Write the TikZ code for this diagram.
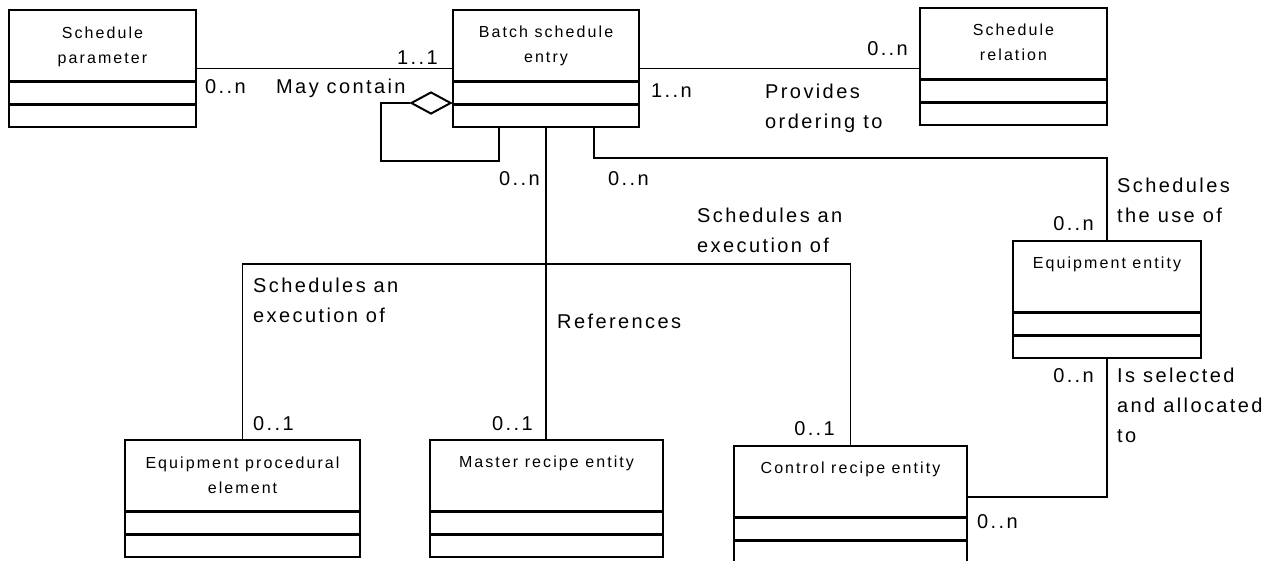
\documentclass[tikz,border=0pt]{standalone}
\usepackage{fontspec}
\setmainfont{Liberation Sans}
\newfontfamily\boxfont[LetterSpace=13]{Liberation Sans}
\newfontfamily\lblfont[LetterSpace=12]{Liberation Sans}
\usetikzlibrary{shapes.geometric}
\newcommand{\umlclass}[6]{%
  \node[classbox, minimum width=#4pt, anchor=north west] (#1) at (#2,#3) {};
  \node[boxtext, anchor=base] (#1-t) at ([yshift=-#6pt]#1.north) {#5};
  \draw[sepline] ([yshift=-72pt]#1.north west) -- ([yshift=-72pt]#1.north east);
  \draw[sepline] ([yshift=-95pt]#1.north west) -- ([yshift=-95pt]#1.north east);
}
\begin{document}
\begin{tikzpicture}[x=1pt,y=-1pt,
  classbox/.style={draw, line width=2pt, minimum height=117pt, inner sep=0pt},
  boxtext/.style={font=\boxfont\fontsize{16}{25}\selectfont, align=center, inner sep=0pt},
  sepline/.style={line width=3pt},
  conn/.style={line width=1.7pt},
  tree/.style={line width=1.3pt},
  lbl/.style={font=\lblfont\fontsize{20}{30}\selectfont, align=left, inner sep=0pt},
  agg/.style={diamond, draw, line width=2pt, minimum width=40pt, minimum height=22pt, inner sep=0pt, fill=white}]
\fill[white] (0,0) rectangle (1280,560);
\useasboundingbox (0,0) rectangle (1280,560);

\umlclass{sp}{8}{9}{187}{Schedule\\parameter}{54}
\umlclass{bse}{452}{9}{186}{Batch schedule\\entry}{53}
\umlclass{rel}{919}{7}{187}{Schedule\\relation}{53}
\umlclass{eqe}{1012}{240}{188}{Equipment entity}{28}
\umlclass{epe}{124}{439}{235}{Equipment procedural\\element}{54}
\umlclass{mre}{429}{439}{233}{Master recipe entity}{28}
\umlclass{cre}{733}{445}{233}{Control recipe entity}{28}

% top associations
\draw[conn] (sp) -- (bse);
\draw[conn] (bse.east) -- (bse.east -| rel.west);

% aggregation self loop
\node[agg, anchor=east] (dia) at (bse.west |- 0,103) {};
\draw[conn] (dia.west) -- ++(-29,0) |- ([xshift=-47pt,yshift=-33pt]bse.south) -- ([xshift=-47pt]bse.south);

% tree to lower classes
\coordinate (bar) at (546,264);
\draw[tree] (bse.south) -- (bse.south |- mre.north);
\draw[tree] (epe.north) |- (cre.north |- bar) -- (cre.north);

% to equipment entity
\draw[conn] ([xshift=48pt]bse.south) |- ([yshift=82pt]eqe.north) -- (eqe.north);
\draw[conn] (eqe.south) |- ([yshift=-52pt]cre.north east);

% labels
\node[lbl, anchor=base east] (m1) at (438,64) {1..1};
\node[lbl, anchor=base west] (m2) at (205,93) {0..n};
\node[lbl, anchor=base west] (l1) at (276,93) {May contain};
\node[lbl, anchor=base east] (m3) at (908,55) {0..n};
\node[lbl, anchor=base west] (m4) at (651,97) {1..n};
\node[lbl, anchor=base west] (l2) at (765,128) {Provides\\ordering to};
\node[lbl, anchor=base east] (m5) at (540,185) {0..n};
\node[lbl, anchor=base west] (m6) at (608,185) {0..n};
\node[lbl, anchor=base west] (l3) at (1117,222) {Schedules\\the use of};
\node[lbl, anchor=base east] (m7) at (1094,230) {0..n};
\node[lbl, anchor=base east] (m8) at (1094,382) {0..n};
\node[lbl, anchor=base west] (l4) at (1117,442) {Is selected\\and allocated\\to};
\node[lbl, anchor=base west] (m9) at (977,528) {0..n};
\node[lbl, anchor=base east] (m10) at (835,435) {0..1};
\node[lbl, anchor=base west] (l5) at (253,322) {Schedules an\\execution of};
\node[lbl, anchor=base west] (m11) at (253,430) {0..1};
\node[lbl, anchor=base west] (l6) at (557,328) {References};
\node[lbl, anchor=base east] (m12) at (533,430) {0..1};
\node[lbl, anchor=base west] (l7) at (697,252) {Schedules an\\execution of};
\end{tikzpicture}
\end{document}
